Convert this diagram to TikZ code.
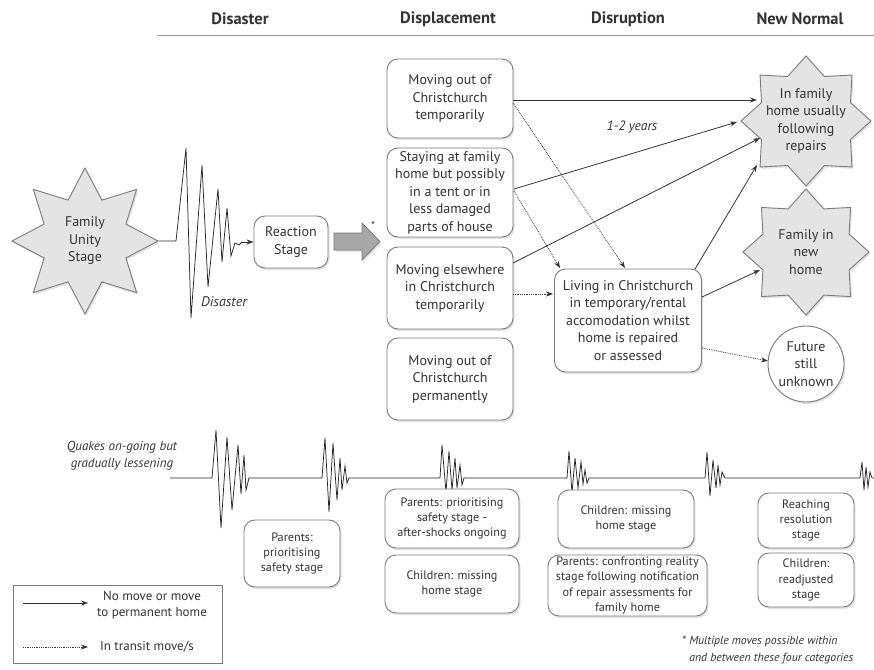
\documentclass[tikz,border=0pt]{standalone}
\usepackage{fontspec}
\setmainfont{PT Sans}
\usetikzlibrary{shapes.geometric,shadows,arrows.meta,calc}
\definecolor{txt}{HTML}{333333}
\definecolor{edge}{HTML}{7A7A7A}
\definecolor{starfill}{HTML}{E4E4E4}
\definecolor{arrowfill}{HTML}{A8A8A8}
\begin{document}
\begin{tikzpicture}[x=1pt,y=-1pt,
  every node/.style={text=txt},
  shadowed/.style={drop shadow={shadow xshift=1.5pt,shadow yshift=-2pt,opacity=0.22}},
  box/.style={draw=edge, line width=0.9pt, rounded corners=11pt, fill=white, align=center, inner sep=0pt,
    font=\fontsize{14}{17.5}\selectfont, shadowed},
  sbox/.style={box, font=\fontsize{12.2}{15.4}\selectfont},
  starshape/.style={star, star points=8, star point ratio=1.4, draw=edge, fill=starfill, line width=0.9pt, inner sep=0pt, shadowed},
  startext/.style={align=center, inner sep=0pt, font=\fontsize{14}{17.5}\selectfont},
  head/.style={font=\fontsize{16.5}{18}\selectfont\bfseries, inner sep=0pt},
  note/.style={font=\fontsize{13}{17}\selectfont\itshape, inner sep=0pt},
  solidarr/.style={draw=txt, line width=0.8pt, -{Stealth[length=7pt,width=5pt]}},
  dotarr/.style={solidarr, densely dotted},
  quake/.style={draw=black!85, line width=0.75pt, line join=miter}
]
\useasboundingbox (0,0) rectangle (874,669);

% headers
\node[head] (hdis) at (240,19) {Disaster};
\node[head] (hdisp) at (448,19) {Displacement};
\node[head] (hdisr) at (628,19) {Disruption};
\node[head] (hnew) at (800,19) {New Normal};
\coordinate (hl0) at (157,36);
\coordinate (hl1) at (874,36);
\draw[edge!80, line width=1pt] (hl0) -- (hl1);

% family unity star
\node[starshape, star point ratio=1.65, minimum size=146pt] (fu) at (85,241) {};
\node[startext] (fut) at (85,241) {Family\\Unity\\Stage};

% reaction stage
\node[box, minimum width=74pt, minimum height=52pt] (re) at (291,242) {Reaction\\Stage};

% disaster seismogram
\draw[quake] (fu.east) -- (176,241) -- (186,148) -- (191,318) -- (202,165) -- (208,287) -- (218,189)
  -- (222,262) -- (227,208) -- (231,256) -- (235,243) -- (239,245) -- (242,242);
\coordinate (qend) at (242,242);
\draw[solidarr] (qend) -- (re.west);
\node[note, font=\fontsize{14}{17}\selectfont\itshape] (dislbl) at (224,302) {Disaster};

% big grey arrow
\draw[edge, fill=arrowfill, line width=0.8pt, shadowed] (334,233) -- (362,233) -- (362,223) -- (380,241.5)
  -- (362,260) -- (362,250) -- (334,250) -- cycle;
\node[inner sep=0pt, font=\fontsize{11}{11}\selectfont] (ast) at (373,226) {*};

% displacement boxes
\node[box, minimum width=126pt, minimum height=79pt] (b1) at (450,98.5) {Moving out of\\Christchurch\\temporarily};
\node[box, minimum width=126pt, minimum height=89pt] (b2) at (450,192.5) {Staying at family\\home but possibly\\in a tent or in\\less damaged\\parts of house};
\node[box, minimum width=126pt, minimum height=82pt] (b3) at (450,288) {Moving elsewhere\\in Christchurch\\temporarily};
\node[box, minimum width=126pt, minimum height=82pt] (b4) at (450,379) {Moving out of\\Christchurch\\permanently};

% disruption box
\node[box, minimum width=147pt, minimum height=103pt] (dr) at (628,320.5) {Living in Christchurch\\in temporary/rental\\accomodation whilst\\home is repaired\\or assessed};

% new normal
\node[starshape, star point ratio=1.35, minimum size=130pt] (s1) at (806,121) {};
\node[startext] (s1t) at (806,121) {In family\\home usually\\following\\repairs};
\node[starshape, star point ratio=1.35, minimum size=126pt] (s2) at (806,252) {};
\node[startext] (s2t) at (806,252) {Family in\\new\\home};
\node[circle, draw=edge, fill=white, line width=0.9pt, minimum size=76pt, inner sep=0pt, shadowed,
  align=center, font=\fontsize{14}{17.5}\selectfont] (fut2) at (806,364) {Future\\still\\unknown};

% arrow endpoints
\coordinate (b1o) at (513,100);
\coordinate (b1d) at (513,103);
\coordinate (b2o) at (514,189);
\coordinate (b2d) at (514,191);
\coordinate (b3o) at (513,263);
\coordinate (b3d) at (513,294);
\coordinate (s1a) at (757,100);
\coordinate (s1b) at (737,122);
\coordinate (s1c) at (760,138);
\coordinate (s1d) at (757,165);
\coordinate (s2a) at (760,270);
\coordinate (dra) at (625,268);
\coordinate (drb) at (560,268);
\coordinate (drc) at (553,294);
\coordinate (dro) at (695,269);
\coordinate (drp) at (702,297);
\coordinate (drq) at (702,348);
\coordinate (fua) at (768,361);

\draw[solidarr] (b1o) -- (s1a);
\draw[dotarr] (b1d) -- (dra);
\draw[solidarr] (b2o) -- (s1b);
\draw[dotarr] (b2d) -- (drb);
\draw[solidarr] (b3o) -- (s1c);
\draw[dotarr] (b3d) -- (drc);
\draw[solidarr] (dro) -- (s1d);
\draw[solidarr] (drp) -- (s2a);
\draw[dotarr] (drq) -- (fua);
\node[note, font=\fontsize{13.5}{17}\selectfont\itshape] (yrs) at (632,127) {1-2 years};

% lower seismogram
\node[note, align=center] (qk) at (122,456) {Quakes on-going but\\gradually lessening};
\draw[quake] (170,478) -- (212,478)
  -- (216,430) -- (221,528) -- (227,437) -- (232,510) -- (238,445) -- (241,494) -- (244,455) -- (246,490) -- (249,478)
  -- (322,478)
  -- (325,438) -- (329,512) -- (333,443) -- (337,500) -- (340,458) -- (342,490) -- (345,466) -- (347,483) -- (349,478)
  -- (440,478)
  -- (442,445) -- (446,492) -- (449,451) -- (452,490) -- (455,458) -- (457,488) -- (460,465) -- (462,485) -- (464,478)
  -- (567,478)
  -- (569,451) -- (572,493) -- (575,458) -- (578,488) -- (581,462) -- (583,484) -- (585,470) -- (587,483) -- (589,478)
  -- (705,478)
  -- (707,452) -- (710,496) -- (713,460) -- (716,488) -- (718,465) -- (720,485) -- (722,472) -- (725,478)
  -- (860,478)
  -- (862,462) -- (864,490) -- (866,467) -- (868,487) -- (870,472) -- (872,478) -- (874,478);

% lower boxes
\node[sbox, minimum width=96pt, minimum height=67pt] (p1) at (292,553.5) {Parents:\\prioritising\\safety stage};
\node[sbox, minimum width=134pt, minimum height=59pt] (p2) at (452,518.5) {Parents: prioritising\\safety stage -\\after-shocks ongoing};
\node[sbox, minimum width=134pt, minimum height=58pt] (c1) at (452,584) {Children: missing\\home stage};
\node[sbox, minimum width=136pt, minimum height=58pt] (c2) at (626,519) {Children: missing\\home stage};
\node[sbox, minimum width=159pt, minimum height=61pt] (p3) at (627.5,585.5) {Parents: confronting reality\\stage following notification\\of repair assessments for\\family home};
\node[sbox, minimum width=96pt, minimum height=55pt] (rr) at (806,520.5) {Reaching\\resolution\\stage};
\node[sbox, minimum width=96pt, minimum height=54pt] (c3) at (806,580) {Children:\\readjusted\\stage};

% legend
\node[draw=edge, line width=0.9pt, minimum width=209pt, minimum height=78pt, inner sep=0pt] (leg) at (117.5,624) {};
\coordinate (l1a) at (23,603);
\coordinate (l1b) at (88,603);
\coordinate (l2a) at (23,647);
\coordinate (l2b) at (88,647);
\draw[solidarr] (l1a) -- (l1b);
\draw[dotarr] (l2a) -- (l2b);
\node[align=center, inner sep=0pt, font=\fontsize{13}{16}\selectfont] (lt1) at (152,605) {No move or move\\to permanent home};
\node[inner sep=0pt, font=\fontsize{13}{16}\selectfont] (lt2) at (147,647) {In transit move/s};

% footnote
\node[note, font=\fontsize{11.8}{17}\selectfont\itshape, align=left, anchor=north west] (fn) at (682,636) {*~Multiple moves possible within\\\hphantom{*~}and between these four categories};
\end{tikzpicture}
\end{document}
